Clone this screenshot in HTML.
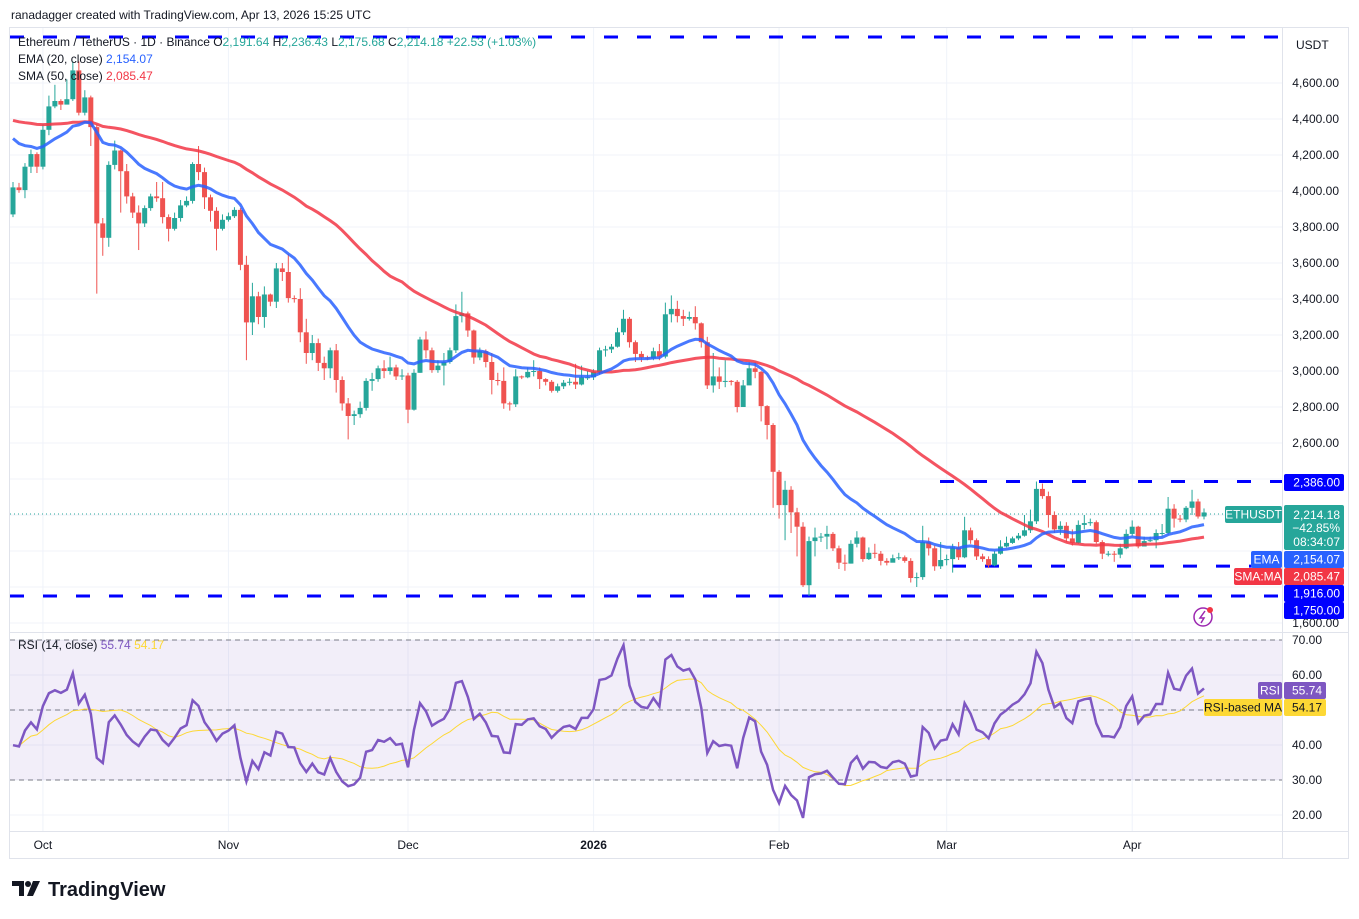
<!DOCTYPE html>
<html><head><meta charset="utf-8">
<style>
html,body{margin:0;padding:0;background:#fff;}
svg{display:block;font-family:"Liberation Sans",sans-serif;}
</style></head>
<body>
<svg id="chart" width="1359" height="919" viewBox="0 0 1359 919" xmlns="http://www.w3.org/2000/svg">
  <text x="11" y="19" font-size="12" fill="#131722">ranadagger created with TradingView.com, Apr 13, 2026 15:25 UTC</text>
  <rect x="9.5" y="27.5" width="1339" height="831" fill="#fff" stroke="#e0e3eb"/>
  <g id="grid"></g>
  <rect x="10" y="640" width="1272" height="140" fill="#7e57c2" fill-opacity="0.1"/>
  <g id="rsiLevels"></g>
  <g id="hlines"></g>
  <line x1="10" y1="514" x2="1282" y2="514" stroke="#26a69a" stroke-dasharray="1,3"/>
  <g id="candles"></g>
  <g id="mas"></g>
  <g id="rsi"></g>
  <line x1="1282.5" y1="28" x2="1282.5" y2="858" stroke="#e0e3eb"/>
  <line x1="10" y1="632.5" x2="1348" y2="632.5" stroke="#e0e3eb"/>
  <line x1="10" y1="831.5" x2="1348" y2="831.5" stroke="#e0e3eb"/>
  <g id="axis"></g>
  <text x="1296" y="49" font-size="12" fill="#131722">USDT</text>
  <g font-size="12">
    <text x="18" y="46" fill="#131722">Ethereum / TetherUS · 1D · Binance  O<tspan fill="#26a69a">2,191.64</tspan>  H<tspan fill="#26a69a">2,236.43</tspan>  L<tspan fill="#26a69a">2,175.68</tspan>  C<tspan fill="#26a69a">2,214.18</tspan>  <tspan fill="#26a69a">+22.53 (+1.03%)</tspan></text>
    <text x="18" y="63" fill="#131722">EMA (20, close)  <tspan fill="#2962ff">2,154.07</tspan></text>
    <text x="18" y="80" fill="#131722">SMA (50, close)  <tspan fill="#f23645">2,085.47</tspan></text>
    <text x="18" y="649" fill="#131722">RSI (14, close)  <tspan fill="#7e57c2">55.74</tspan>  <tspan fill="#fdd835">54.17</tspan></text>
  </g>
  <g id="tags"></g>
  <g>
    <circle cx="1203" cy="617" r="9" fill="none" stroke="#9c27b0" stroke-width="1.5"/>
    <path d="M1205 611 L1200 618 L1204 618 L1201 623" fill="none" stroke="#9c27b0" stroke-width="1.5"/>
    <circle cx="1210" cy="610" r="3" fill="#f23645"/>
  </g>
  <g>
    <path d="M12 881 H24 V896 H19 V886 H12 Z" fill="#131722"/>
    <circle cx="28" cy="884" r="3" fill="#131722"/>
    <path d="M33 881 H40 L33 896 H27 Z" fill="#131722"/>
    <text x="48" y="896" font-size="20" font-weight="bold" fill="#131722">TradingView</text>
  </g>
</svg>
<script>
// ---- data ----
const firstOpen = 3870;
const closes = [4020,4005,4135,4205,4135,4340,4470,4500,4480,4510,4670,4435,4520,4355,3820,3740,4145,4225,4110,3970,3880,3820,3905,3970,3960,3855,3790,3850,3920,3945,4150,4105,3965,3890,3790,3840,3860,3895,3590,3270,3415,3300,3425,3385,3570,3550,3405,3400,3215,3100,3155,3045,
3015,3115,2950,2820,2750,2760,2795,2945,2955,3015,3000,3020,2970,2975,2785,2990,3175,3115,3005,3030,3050,3115,3305,3320,3225,3075,3110,3050,2950,2945,2820,2815,2970,2965,2995,3000,2955,2940,2890,2915,2935,2940,2925,2965,2965,2995,3115,3120,3135,3215,
3290,3160,3095,3075,3070,3110,3080,3315,3345,3305,3290,3300,3265,3160,2920,2970,2940,2945,2940,2800,2920,3015,2995,2805,2700,2440,2255,2340,2215,2135,1810,2055,2075,2080,2095,2015,1935,1930,2040,2075,1955,1990,1985,1945,1935,1960,1965,1945,1850,1855,2050,2015,1915,1950,
1955,2020,1965,2115,2060,1970,1955,1920,1985,2025,2045,2070,2085,2115,2165,2345,2305,2200,2120,2140,2070,2045,2145,2155,2160,2050,1985,1985,1980,2015,2095,2135,2025,2055,2060,2100,2100,2235,2180,2175,2240,2275,2191.64,2214.18];
const highs = [4050,4045,4155,4230,4215,4370,4530,4590,4510,4620,4720,4720,4560,4530,4370,3850,4165,4280,4230,4150,3990,3920,3920,3985,4050,4050,3870,3880,3950,3970,4160,4250,4130,3980,3910,3870,3880,3910,3905,3640,3490,3440,3470,3430,3600,3600,3650,3420,3460,3290,3200,3180,
3080,3130,3150,2970,2850,2780,2830,2960,2990,3030,3060,3080,3035,3010,2990,3010,3190,3220,3130,3060,3100,3130,3370,3440,3330,3230,3130,3120,3100,2990,3020,2830,3010,2975,3020,3060,3020,2960,2950,2930,2950,2960,3040,3030,3000,3010,3130,3140,3150,3240,
3340,3300,3170,3110,3085,3130,3150,3380,3420,3390,3340,3330,3360,3270,3190,3100,3020,3060,2950,2950,2950,3050,3050,3000,2810,2710,2450,2390,2360,2240,2160,2080,2130,2100,2140,2105,2030,1980,2060,2110,2080,2020,2040,2000,1960,1980,1990,1975,1960,1880,2140,2075,2030,2050,
1980,2040,2050,2190,2130,2070,1985,1970,2000,2060,2080,2080,2100,2200,2230,2386,2375,2330,2220,2165,2160,2120,2170,2200,2180,2170,2060,2000,2000,2040,2120,2170,2140,2080,2080,2120,2150,2300,2260,2200,2250,2340,2290,2236.43];
const lows = [3855,3990,3960,4100,4100,4120,4310,4460,4450,4490,4500,4420,4420,4250,3430,3640,3690,4120,3880,3930,3850,3672,3800,3890,3940,3820,3720,3780,3830,3910,3930,4060,3900,3830,3670,3780,3830,3850,3560,3060,3200,3260,3240,3360,3350,3500,3380,3380,3160,3040,3060,3000,
2950,2960,2880,2780,2620,2700,2740,2780,2890,2940,2960,2980,2950,2950,2710,2780,2990,3070,2990,2990,2920,3040,3100,3270,3190,3040,3060,3020,2870,2920,2790,2780,2800,2955,2960,2970,2900,2920,2880,2880,2900,2920,2900,2920,2950,2950,2980,3080,3100,3130,
3200,3130,3050,3050,3060,3060,3060,3070,3270,3270,3250,3280,3230,3130,2900,2880,2900,2910,2920,2770,2800,2950,2960,2720,2620,2240,2180,2060,2100,1970,1800,1750,1970,2050,2010,2000,1900,1890,1930,2020,1940,1950,1960,1920,1920,1940,1950,1935,1825,1800,1840,1975,1890,1900,
1920,1880,1950,1960,2040,1950,1940,1905,1915,1980,2020,2040,2060,2080,2100,2150,2290,2130,2100,2090,2050,2030,2040,2120,2140,2040,1955,1970,1940,1960,2010,2085,2015,2040,2050,2015,2080,2090,2130,2160,2160,2200,2180,2175.68];
const priceTicks = [1600,1800,2000,2200,2400,2600,2800,3000,3200,3400,3600,3800,4000,4200,4400,4600];
const rsiTicks = [20,30,40,50,60,70];
const monthLabels = ["Oct","Nov","Dec","2026","Feb","Mar","Apr"];
const monthDayIndex = [5,36,66,97,128,156,187];
const levelPrices = [2386,1916,1750];
const smaSeed = 4400, emaSeed = 4320, rsiSeedGain = 45, rsiSeedLoss = 85;

// ---- scales ----
const NS = "http://www.w3.org/2000/svg";
const yP = p => 83 + (4600 - p) * 0.18;
const yR = r => 640 + (70 - r) * 3.5;
const xI = i => 13 + i * 5.985;
function mk(tag, attrs, parent){ const e=document.createElementNS(NS,tag); for(const k in attrs) e.setAttribute(k,attrs[k]); parent.appendChild(e); return e; }
const $ = id => document.getElementById(id);

// grid
const grid=$("grid");
priceTicks.forEach(p=>{ const l=mk("line",{x1:10,x2:1282,y1:yP(p),y2:yP(p),stroke:"#f0f3fa"},grid);

 });
rsiTicks.forEach(r=>{ const l=mk("line",{x1:10,x2:1282,y1:yR(r),y2:yR(r),stroke:"#f0f3fa"},grid);

 });
monthDayIndex.forEach(d=>{ const l=mk("line",{x1:xI(d),x2:xI(d),y1:28,y2:831,stroke:"#f0f3fa"},grid);

 });

// rsi levels
[70,50,30].forEach(r=>{ const l=mk("line",{x1:10,x2:1282,y1:yR(r),y2:yR(r),stroke:"#787b86","stroke-dasharray":"5,4"},$("rsiLevels"));

 });

// horizontal dashed levels
const levelStart=[940,952,10];
mk("line",{x1:10,x2:1282,y1:37,y2:37,stroke:"#0000ff","stroke-width":3,"stroke-dasharray":"14,19"},$("hlines"));
levelPrices.forEach((p,k)=>{ const l=mk("line",{x1:levelStart[k],x2:1282,y1:yP(p),y2:yP(p),stroke:"#0000ff","stroke-width":3,"stroke-dasharray":"14,19"},$("hlines"));

 });

// candles
const cg=$("candles");
closes.forEach((c,i)=>{
  const o = i===0?firstOpen:closes[i-1];
  const up = c>=o, col = up?"#26a69a":"#ef5350", x=xI(i);
  const w=mk("line",{x1:x,x2:x,y1:yP(highs[i]),y2:yP(lows[i]),stroke:col,"stroke-width":1},cg);
  
  
  const top=yP(Math.max(o,c)), h=Math.max(1,yP(Math.min(o,c))-top);
  const b=mk("rect",{x:x-2.5,y:top,width:5,height:h,fill:col},cg);
  
  
});

// moving averages
const sma=[], ema=[];
let e=emaSeed; const k=2/21;
closes.forEach((c,i)=>{
  let s=0; for(let j=i-49;j<=i;j++) s+= j<0?smaSeed:closes[j];
  sma.push(s/50); e = c*k + e*(1-k); ema.push(e);
});
function pathOf(arr,fy){ return arr.map((v,i)=>(i?"L":"M")+xI(i).toFixed(1)+" "+fy(v).toFixed(1)).join(" "); }
const smaPath=mk("path",{d:pathOf(sma,yP),fill:"none",stroke:"#f23645","stroke-width":3,opacity:0.85},$("mas"));


const emaPath=mk("path",{d:pathOf(ema,yP),fill:"none",stroke:"#2962ff","stroke-width":3,opacity:0.85},$("mas"));



// RSI
const rsi=[]; let ag=rsiSeedGain, al=rsiSeedLoss;
closes.forEach((c,i)=>{ const o=i===0?firstOpen:closes[i-1]; const d=c-o;
  ag=(ag*13+Math.max(d,0))/14; al=(al*13+Math.max(-d,0))/14; rsi.push(100-100/(1+ag/al)); });
const rsiMa=rsi.map((v,i)=>{ let s=0,n=0; for(let j=Math.max(0,i-13);j<=i;j++){s+=rsi[j];n++;} return s/n; });
const maPath=mk("path",{d:pathOf(rsiMa,yR),fill:"none",stroke:"#fdd835","stroke-width":1},$("rsi"));


const rsiPath=mk("path",{d:pathOf(rsi,yR),fill:"none",stroke:"#7e57c2","stroke-width":2.5},$("rsi"));



// axes labels
const ax=$("axis");
priceTicks.forEach(p=>{ if(p===1800||p===2000||p===2200||p===2400) return; const t=mk("text",{x:1339,y:yP(p)+4,"font-size":12,fill:"#131722","text-anchor":"end"},ax); t.textContent=p.toLocaleString("en-US",{minimumFractionDigits:2});

 });
rsiTicks.forEach(r=>{ if(r===50) return; const t=mk("text",{x:1322,y:yR(r)+4,"font-size":12,fill:"#131722","text-anchor":"end"},ax); t.textContent=r.toFixed(2);

 });
monthLabels.forEach((m,i)=>{ const t=mk("text",{x:xI(monthDayIndex[i]),y:849,"font-size":12,fill:"#131722","text-anchor":"middle","font-weight":m==="2026"?"bold":"normal"},ax); t.textContent=m;

 });

// price tags
const tg=$("tags");
function tag(x,y,w,h,fill,text,tcol,name,anchor){ const g=mk("g",{},tg);
  
  
  mk("rect",{x:x,y:y,width:w,height:h,rx:2,fill:fill},g);
  if(text){ const t=mk("text",{x:anchor==="end"?x+w-4:x+w/2,y:y+h/2+4,"font-size":12,fill:tcol,"text-anchor":anchor||"middle"},g); t.textContent=text; } return g; }
tag(1284,474,60,17,"#0000ff","2,386.00","#fff","tag-2386","end");
tag(1225,506,57,17,"#26a69a","ETHUSDT","#fff","tag-symbol");
const pg=tag(1284,505,60,45,"#26a69a","","#fff","tag-last-price");
[["2,214.18",519],["−42.85%",532],["08:34:07",546]].forEach(([s,y])=>{ const t=mk("text",{x:1340,y:y,"font-size":12,fill:"#fff","text-anchor":"end"},pg); t.textContent=s; });
tag(1251,551,31,17,"#2962ff","EMA","#fff","tag-ema-name");
tag(1284,551,60,17,"#2962ff","2,154.07","#fff","tag-ema","end");
tag(1234,568,48,17,"#f23645","SMA:MA","#fff","tag-sma-name");
tag(1284,568,60,17,"#f23645","2,085.47","#fff","tag-sma","end");
tag(1284,585,60,17,"#0000ff","1,916.00","#fff","tag-1916","end");
tag(1284,602,60,17,"#0000ff","1,750.00","#fff","tag-1750","end");
tag(1258,682,24,17,"#7e57c2","RSI","#fff","tag-rsi-name");
tag(1284,682,42,17,"#7e57c2","55.74","#fff","tag-rsi","end");
tag(1204,699,78,17,"#fdd835","RSI-based MA","#131722","tag-rsi-ma-name");
tag(1284,699,42,17,"#fdd835","54.17","#131722","tag-rsi-ma","end");
</script>
</body></html>
